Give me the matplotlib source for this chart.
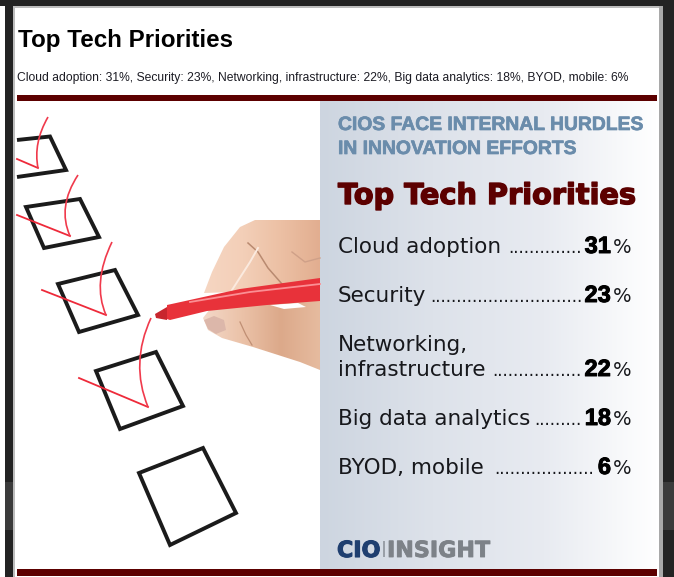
import numpy as np
import matplotlib
matplotlib.use('Agg')
import matplotlib.pyplot as plt
import matplotlib.patheffects as pe
from matplotlib.colors import LinearSegmentedColormap
from matplotlib.patches import Polygon, Rectangle, PathPatch
from matplotlib.path import Path

# chart data
categories = ['Cloud adoption', 'Security', 'Networking,\ninfrastructure', 'Big data analytics', 'BYOD, mobile']
short_names = ['Cloud adoption', 'Security', 'Networking, infrastructure', 'Big data analytics', 'BYOD, mobile']
values = [31, 23, 22, 18, 6]
leaders = [14, 29, 17, 9, 19]
baselines = [253, 302, 376, 425, 474]

title = 'Top Tech Priorities'
headline = ['CIOS FACE INTERNAL HURDLES', 'IN INNOVATION EFFORTS']

dark_red = '#5c0000'
ink = '#17181c'
sans = 'Liberation Sans'
wide = 'DejaVu Sans'

fig = plt.figure(figsize=(6.74, 5.77), dpi=100, facecolor='white')
ax = fig.add_axes([0, 0, 1, 1])


def rect(x0, y0, x1, y1, color, z=1):
    ax.add_patch(Rectangle((x0, y0), x1 - x0, y1 - y0, color=color, lw=0, zorder=z))


def shaded(pts, colors, z=3):
    # polygon filled with a left to right gradient
    pts = np.array(pts)
    patch = Polygon(pts, transform=ax.transData, fill=False, lw=0)
    ax.add_patch(patch)
    cm = LinearSegmentedColormap.from_list('skin', colors)
    im = ax.imshow(np.linspace(0, 1, 128).reshape(1, -1), cmap=cm, aspect='auto', zorder=z,
                   extent=(pts[:, 0].min(), pts[:, 0].max(), pts[:, 1].max(), pts[:, 1].min()))
    im.set_clip_path(patch)


# page frame
rect(5, 0, 13, 577, '#232323')
rect(0, 0, 674, 6, '#232323')
rect(663, 0, 674, 577, '#232323')
rect(5, 482, 13, 530, '#3b3b3b', 1.5)
rect(663, 482, 674, 530, '#3b3b3b', 1.5)
rect(13, 6, 663, 8, '#bdbdbd')
rect(13, 6, 15, 577, '#bdbdbd')
rect(659, 6, 663, 577, '#a9a9a9')

# heading above the graphic
ax.text(18, 47, title, family=sans, weight='bold', fontsize=17.4, color='black')
summary = ', '.join(f'{n}: {v}%' for n, v in zip(short_names, values))
ax.text(17, 81, summary, family=sans, fontsize=8.7, color='#1c1c24')

# panel with its gradient
cmap = LinearSegmentedColormap.from_list('panel', ['#cdd5e0', '#dde2ea', '#e8ebf1', '#ffffff'])
grad = np.linspace(0, 1, 256).reshape(1, -1)
ax.imshow(grad, cmap=cmap, extent=(320, 657, 569, 101), aspect='auto', zorder=2)

rect(17, 95, 657, 101, dark_red, 3)
rect(17, 569, 657, 576, dark_red, 3)

# check boxes
boxes = [
    ([(17, 140), (50, 136.5), (66, 170), (17, 177)], False),
    ([(26, 207), (80, 199), (99, 237), (44, 248)], True),
    ([(58, 284), (115, 270), (138, 315), (79, 332)], True),
    ([(96, 371), (156, 352), (183, 406), (120, 429)], True),
    ([(139, 473), (203, 448), (236, 513), (170, 545)], True),
]
for pts, closed in boxes:
    ax.add_patch(Polygon(pts, closed=closed, fill=False, ec='#1b1b1b', lw=2.8, joinstyle='miter', zorder=3))

# red tick marks
ticks = [
    ((17, 159), (38, 168), (33, 143), (48, 117)),
    ((17, 215), (70, 236), (57, 207), (78, 175)),
    ((42, 290), (106, 315), (92, 283), (112, 242)),
    ((79, 378), (148, 407), (130, 363), (151, 318)),
]
for start, corner, ctrl, end in ticks:
    ax.plot([start[0], corner[0]], [start[1], corner[1]], color='#ee2a3a', lw=1.3, zorder=4)
    path = Path([corner, ctrl, end], [Path.MOVETO, Path.CURVE3, Path.CURVE3])
    ax.add_patch(PathPatch(path, fill=False, ec='#f03a4c', lw=1.2, zorder=4))

# hand and marker
shaded([(204, 293), (212, 272), (224, 247), (240, 227), (255, 220), (320, 220), (320, 282), (235, 292)],
       ['#f6d6c2', '#f3cfb8', '#ecc0a4', '#e2ae90'])
shaded([(203, 318), (210, 309), (267, 304), (320, 298), (320, 370), (300, 362), (253, 347), (222, 338), (208, 330)],
       ['#f3d8c8', '#ebc2a8', '#dca98a', '#e6bb9f'])
ax.add_patch(Polygon([(270, 305), (298, 303), (306, 307), (284, 309)], color='white', lw=0, zorder=4))
ax.plot([248, 258, 268, 282], [243, 252, 268, 284], color='#b98a70', lw=1.1, zorder=4)
ax.plot([232, 250, 258], [290, 262, 248], color='#fbeadf', lw=1.4, zorder=4)
ax.plot([292, 305, 320], [252, 262, 258], color='#cfa088', lw=1.0, zorder=4)
ax.plot([240, 246, 252], [322, 335, 345], color='#c08f74', lw=0.9, zorder=4)
ax.add_patch(Polygon([(204, 320), (214, 316), (224, 320), (226, 330), (216, 334), (208, 329)],
                     color='#dcb7aa', lw=0, zorder=4))
ax.add_patch(Polygon([(167, 305), (240, 289), (320, 278), (320, 301), (267, 305), (207, 311), (170, 320), (167, 319)],
                     color='#e8323a', lw=0, zorder=5))
ax.add_patch(Polygon([(155, 314), (167, 307), (167, 320), (156, 318)], color='#c8262e', lw=0, zorder=5))
ax.plot([190, 250, 320], [302, 292, 284], color='#fb8f94', lw=1.3, zorder=6)

# panel text
for i, line in enumerate(headline):
    ax.text(338, 130 + 24 * i, line, family=sans, weight='bold', fontsize=13.9, color='#6a8cab', zorder=6,
            path_effects=[pe.withStroke(linewidth=0.5, foreground='#6a8cab')])

ax.text(338, 204, title, family=wide, weight='bold', fontsize=20.7, color=dark_red, zorder=6,
        path_effects=[pe.withStroke(linewidth=1.0, foreground=dark_red)])

for name, value, dots, y in zip(categories, values, leaders, baselines):
    lines = name.split('\n')
    if len(lines) > 1:
        ax.text(338, y - 25, lines[0], family=wide, fontsize=15.5, color=ink, zorder=6)
    ax.text(338, y, lines[-1], family=wide, fontsize=15.5, color=ink, zorder=6)
    ax.text(631, y, '%', family=wide, fontsize=14, color=ink, ha='right', zorder=6)
    ax.text(611, y, str(value), family=sans, weight='bold', fontsize=17, color='black', ha='right', zorder=6,
            path_effects=[pe.withStroke(linewidth=0.7, foreground='black')])
    right = 582 if value > 6 else 594
    ax.text(right, y, '.' * dots, family=wide, fontsize=12, color=ink, ha='right', zorder=6)

# logo
ax.text(337, 557, 'CIO', family=wide, weight='bold', fontsize=16, color='#1f3f70', zorder=6,
        path_effects=[pe.withStroke(linewidth=0.8, foreground='#1f3f70')])
rect(383, 541, 385, 557, '#9aa0a8', 6)
ax.text(387, 557, 'INSIGHT', family=wide, weight='bold', fontsize=16, color='#7d8288', zorder=6,
        path_effects=[pe.withStroke(linewidth=0.6, foreground='#7d8288')])

ax.set_xlim(0, 674)
ax.set_ylim(577, 0)
ax.axis('off')

fig.savefig('out.png', dpi=100, facecolor=fig.get_facecolor())
